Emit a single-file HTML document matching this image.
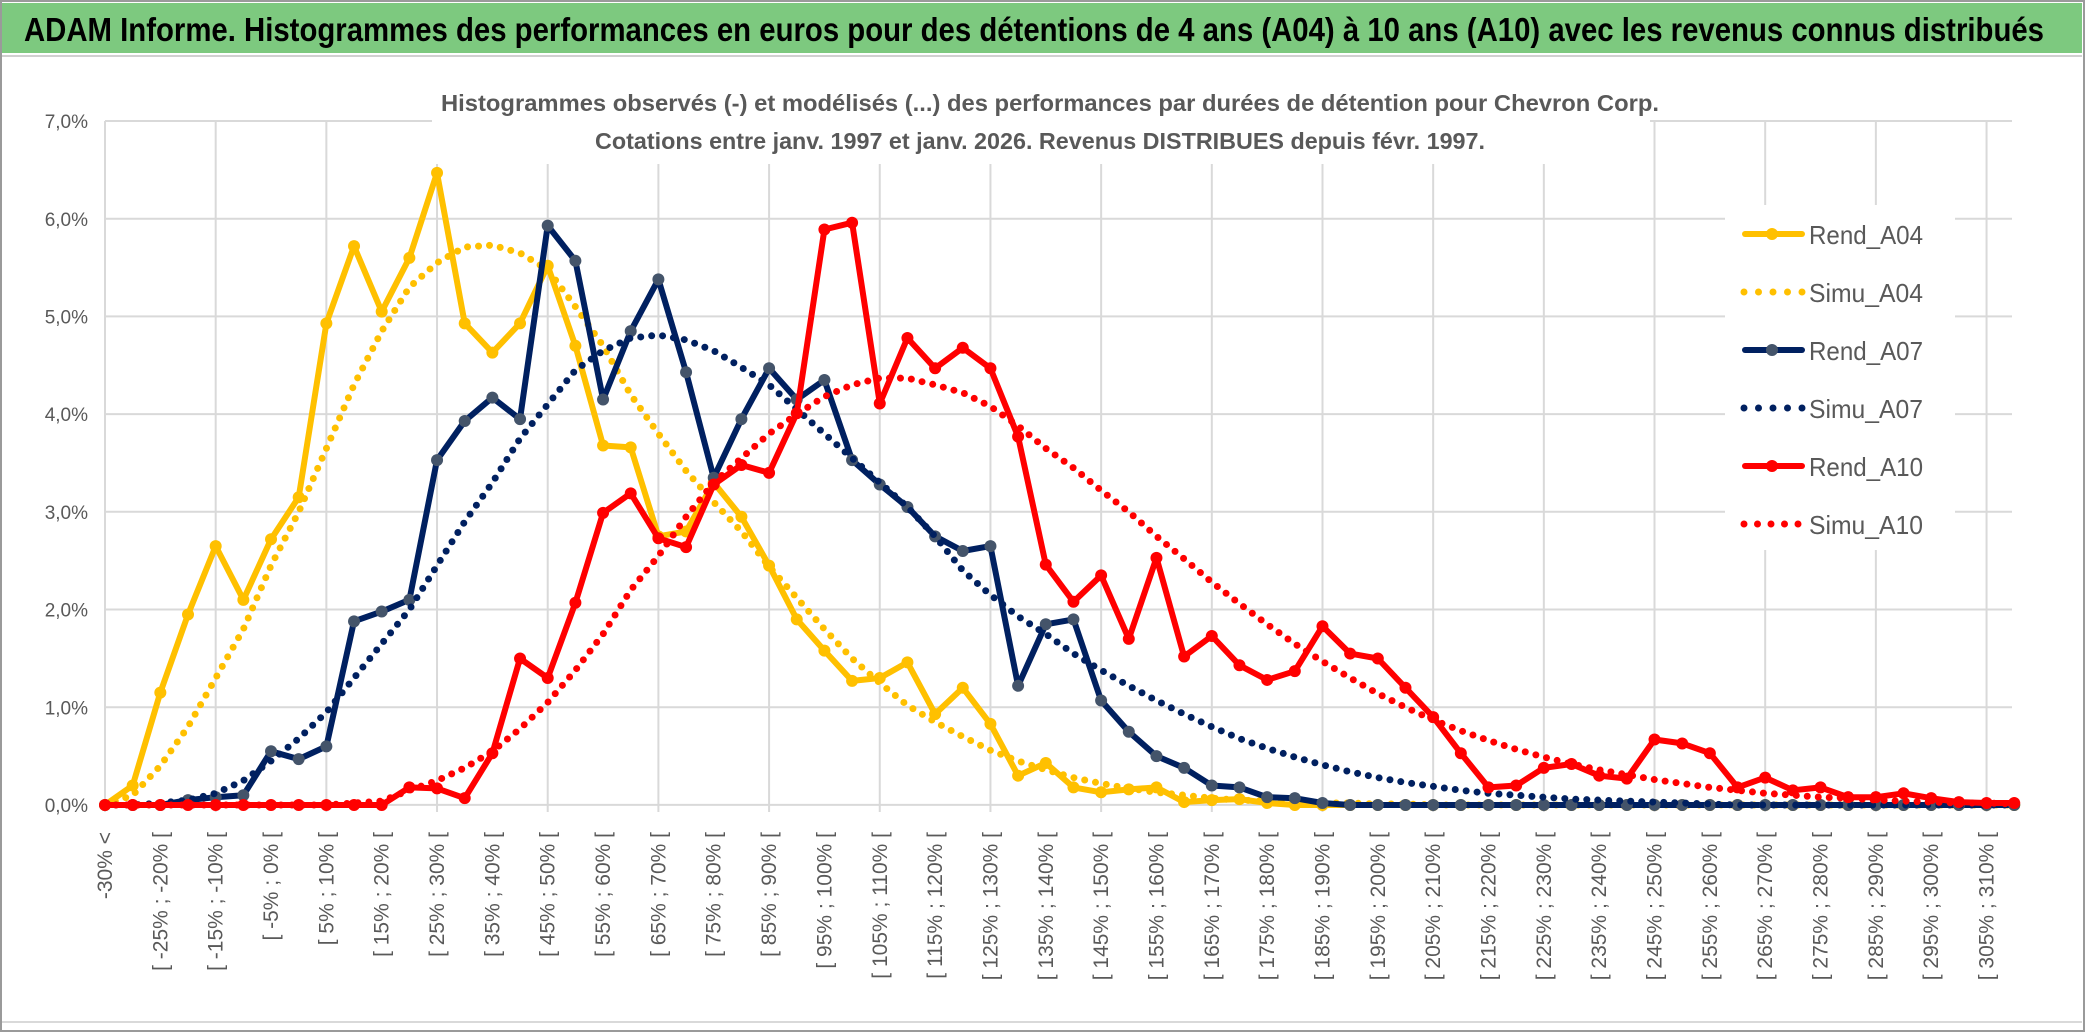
<!DOCTYPE html>
<html><head><meta charset="utf-8"><style>
html,body{margin:0;padding:0;background:#fff}
svg{display:block}
</style></head><body>
<svg id="chart" width="2086" height="1033" viewBox="0 0 2086 1033" xmlns="http://www.w3.org/2000/svg" font-family="'Liberation Sans', sans-serif">
<rect x="0" y="0" width="2086" height="1033" fill="#fff"/>
<rect x="1" y="1" width="2083" height="1030" fill="none" stroke="#9a9a9a" stroke-width="2"/>
<rect x="2" y="3" width="2080" height="50" fill="#7dc97f"/>
<line x1="2" y1="56" x2="2082" y2="56" stroke="#d0d0d0" stroke-width="2"/>
<text x="24" y="41" font-size="33" font-weight="bold" fill="#000" textLength="2020" lengthAdjust="spacingAndGlyphs">ADAM Informe. Histogrammes des performances en euros pour des détentions de 4 ans (A04) à 10 ans (A10) avec les revenus connus distribués</text>
<g id="grid"></g>
<rect x="432" y="78" width="1218" height="86" fill="#fff"/>
<text x="1050" y="111" font-size="23" font-weight="bold" fill="#595959" text-anchor="middle" textLength="1218" lengthAdjust="spacingAndGlyphs">Histogrammes observés (-) et modélisés (...) des performances par durées de détention pour Chevron Corp.</text>
<text x="1040" y="149" font-size="23" font-weight="bold" fill="#595959" text-anchor="middle" textLength="890" lengthAdjust="spacingAndGlyphs">Cotations entre janv. 1997 et janv. 2026. Revenus DISTRIBUES depuis févr. 1997.</text>
<g id="yaxis"></g>
<g id="xaxis"></g>
<g id="series"></g>
<g id="legend"></g>
<line x1="2" y1="1022" x2="2082" y2="1022" stroke="#d9d9d9" stroke-width="2"/>
</svg>
<script>
const rendA04 = [0,0.2,1.15,1.95,2.65,2.1,2.72,3.15,4.93,5.72,5.05,5.6,6.47,4.93,4.63,4.93,5.52,4.7,3.68,3.66,2.75,2.8,3.3,2.95,2.45,1.9,1.58,1.27,1.3,1.46,0.93,1.2,0.83,0.3,0.43,0.18,0.13,0.16,0.18,0.03,0.05,0.06,0.02,0,0,0,0,0,0,0,0,0,0,0,0,0,0,0,0,0,0,0,0,0,0,0,0,0,0,0];
const simuA04 = [0,0.1,0.4,0.8,1.3,1.8,2.45,3.0,3.65,4.3,4.85,5.3,5.55,5.71,5.73,5.65,5.48,5.1,4.7,4.2,3.8,3.42,3.1,2.8,2.44,2.12,1.8,1.5,1.25,1.02,0.85,0.7,0.56,0.45,0.36,0.28,0.22,0.17,0.13,0.1,0.07,0.05,0.04,0.03,0.02,0.02,0.01,0.01,0,0,0,0,0,0,0,0,0,0,0,0,0,0,0,0,0,0,0,0,0,0];
const rendA07 = [0,0,0,0.05,0.08,0.1,0.55,0.47,0.6,1.88,1.98,2.1,3.53,3.93,4.17,3.95,5.93,5.57,4.15,4.85,5.38,4.43,3.35,3.95,4.47,4.15,4.35,3.53,3.28,3.05,2.75,2.6,2.65,1.22,1.85,1.9,1.07,0.75,0.5,0.38,0.2,0.18,0.08,0.07,0.02,0,0,0,0,0,0,0,0,0,0,0,0,0,0,0,0,0,0,0,0,0,0,0,0,0];
const simuA07 = [0,0,0.02,0.05,0.12,0.25,0.45,0.68,0.95,1.3,1.65,2.0,2.45,2.9,3.3,3.75,4.1,4.45,4.65,4.78,4.81,4.76,4.65,4.48,4.3,4.05,3.8,3.55,3.3,3.05,2.75,2.4,2.15,1.93,1.75,1.55,1.38,1.22,1.07,0.93,0.8,0.68,0.58,0.49,0.41,0.34,0.28,0.23,0.19,0.15,0.12,0.1,0.08,0.06,0.05,0.04,0.03,0.02,0.01,0,0,0,0,0,0,0,0,0,0,0];
const rendA10 = [0,0,0,0,0,0,0,0,0,0,0,0.18,0.17,0.07,0.53,1.5,1.3,2.07,2.99,3.19,2.73,2.64,3.28,3.48,3.4,4.01,5.89,5.96,4.11,4.78,4.47,4.68,4.47,3.77,2.46,2.08,2.35,1.7,2.53,1.52,1.73,1.43,1.28,1.37,1.83,1.55,1.5,1.2,0.9,0.53,0.18,0.2,0.38,0.42,0.3,0.27,0.67,0.63,0.53,0.18,0.28,0.15,0.18,0.08,0.08,0.12,0.07,0.03,0.02,0.02];
const simuA10 = [0,0,0,0,0,0,0,0,0,0.02,0.04,0.15,0.25,0.38,0.55,0.78,1.05,1.38,1.75,2.2,2.55,2.95,3.3,3.55,3.8,4.0,4.18,4.3,4.37,4.37,4.3,4.22,4.08,3.88,3.65,3.45,3.22,3.0,2.75,2.52,2.28,2.06,1.85,1.65,1.47,1.3,1.14,1.0,0.87,0.76,0.66,0.57,0.49,0.42,0.36,0.31,0.26,0.22,0.18,0.15,0.12,0.1,0.08,0.07,0.05,0.04,0.03,0.02,0.02,0.01];
const yTicks = [0,1,2,3,4,5,6,7];
const yTickLabels = ["0,0%","1,0%","2,0%","3,0%","4,0%","5,0%","6,0%","7,0%"];
const categories = ["-30% <"];
for (let k = 1; k < 70; k++) categories.push("[ " + (-35 + 5*k) + "% ; " + (-30 + 5*k) + "% [");

const NS = "http://www.w3.org/2000/svg";
const X0 = 105, DX = 27.67, Y0 = 805, DY = 97.7;
function xS(i){ return X0 + i*DX; }
function yS(v){ return Y0 - v*DY; }
function mk(tag, attrs, parent){ const e = document.createElementNS(NS, tag); for (const k in attrs) e.setAttribute(k, attrs[k]); parent.appendChild(e); return e; }

// gridlines
const grid = document.getElementById('grid');
for (let k = 0; k <= 7; k++) {
  const y = 121 + k*97.7;
  const gl = mk('line', {x1:105, x2:2012, y1:y, y2:y, stroke:'#d9d9d9', 'stroke-width':2}, grid);
  
  
}
for (let k = 0; k <= 17; k++) {
  const x = 105 + k*110.68;
  const vl = mk('line', {x1:x, x2:x, y1:121, y2:812, stroke:'#d9d9d9', 'stroke-width':2}, grid);
  
  
}

// y axis labels
const ya = document.getElementById('yaxis');
yTicks.forEach((t, k) => {
  const tx = mk('text', {x:88, y:yS(t)+7, 'font-size':19, fill:'#595959', 'text-anchor':'end'}, ya);
  tx.textContent = yTickLabels[k];
  
  
});

// x axis labels (every other category)
const xa = document.getElementById('xaxis');
categories.forEach((c, i) => {
  if (i % 2 !== 0) return;
  const x = xS(i) + 7;
  const tx = mk('text', {x:x, y:832, 'font-size':21, fill:'#595959', 'text-anchor':'end', transform:'rotate(-90 '+x+' 832)'}, xa);
  tx.textContent = c;
  
  
});

// series
const sg = document.getElementById('series');
function pts(arr){ return arr.map((v,i)=> xS(i).toFixed(1)+','+yS(v).toFixed(1)).join(' '); }
function solid(arr, color, mcolor, name){
  const g = mk('g', {}, sg);
  
  
  const pl = mk('polyline', {points:pts(arr), fill:'none', stroke:color, 'stroke-width':6, 'stroke-linejoin':'round', 'stroke-linecap':'round'}, g);
  
  
  arr.forEach((v,i)=>{
    const c = mk('circle', {cx:xS(i), cy:yS(v), r:6, fill:mcolor}, g);
    
    
  });
}
function dotted(arr, color, name){
  const pl = mk('polyline', {points:pts(arr), fill:'none', stroke:color, 'stroke-width':7, 'stroke-linecap':'round', 'stroke-dasharray':'0 11'}, sg);
  
  
}
solid(rendA04, '#ffc000', '#ffc000', 'rend-a04');
dotted(simuA04, '#ffc000', 'simu-a04');
solid(rendA07, '#002060', '#44546a', 'rend-a07');
dotted(simuA07, '#002060', 'simu-a07');
solid(rendA10, '#ff0000', '#ff0000', 'rend-a10');
dotted(simuA10, '#ff0000', 'simu-a10');

// legend
const lg = document.getElementById('legend');
mk('rect', {x:1725, y:205, width:230, height:345, fill:'#fff'}, lg);
const legendNames = ["Rend_A04","Simu_A04","Rend_A07","Simu_A07","Rend_A10","Simu_A10"];
const legendColors = ["#ffc000","#ffc000","#002060","#002060","#ff0000","#ff0000"];
const legendY = [234,292,350,408,466,524];
legendNames.forEach((n,k)=>{
  const y = legendY[k];
  const g = mk('g', {}, lg);
  
  
  if (k % 2 === 0) {
    mk('line', {x1:1745, x2:1802, y1:y, y2:y, stroke:legendColors[k], 'stroke-width':6, 'stroke-linecap':'round'}, g);
    mk('circle', {cx:1772, cy:y, r:6, fill: k===2 ? '#44546a' : legendColors[k]}, g);
  } else {
    mk('line', {x1:1744, x2:1806, y1:y, y2:y, stroke:legendColors[k], 'stroke-width':7, 'stroke-linecap':'round', 'stroke-dasharray': k===5 ? '0 13.5' : '0 14.5'}, g);
  }
  const t = mk('text', {x:1809, y:y+10, 'font-size':26, fill:'#595959', textLength:114, lengthAdjust:'spacingAndGlyphs'}, g);
  t.textContent = n;
});
</script>
</body></html>
